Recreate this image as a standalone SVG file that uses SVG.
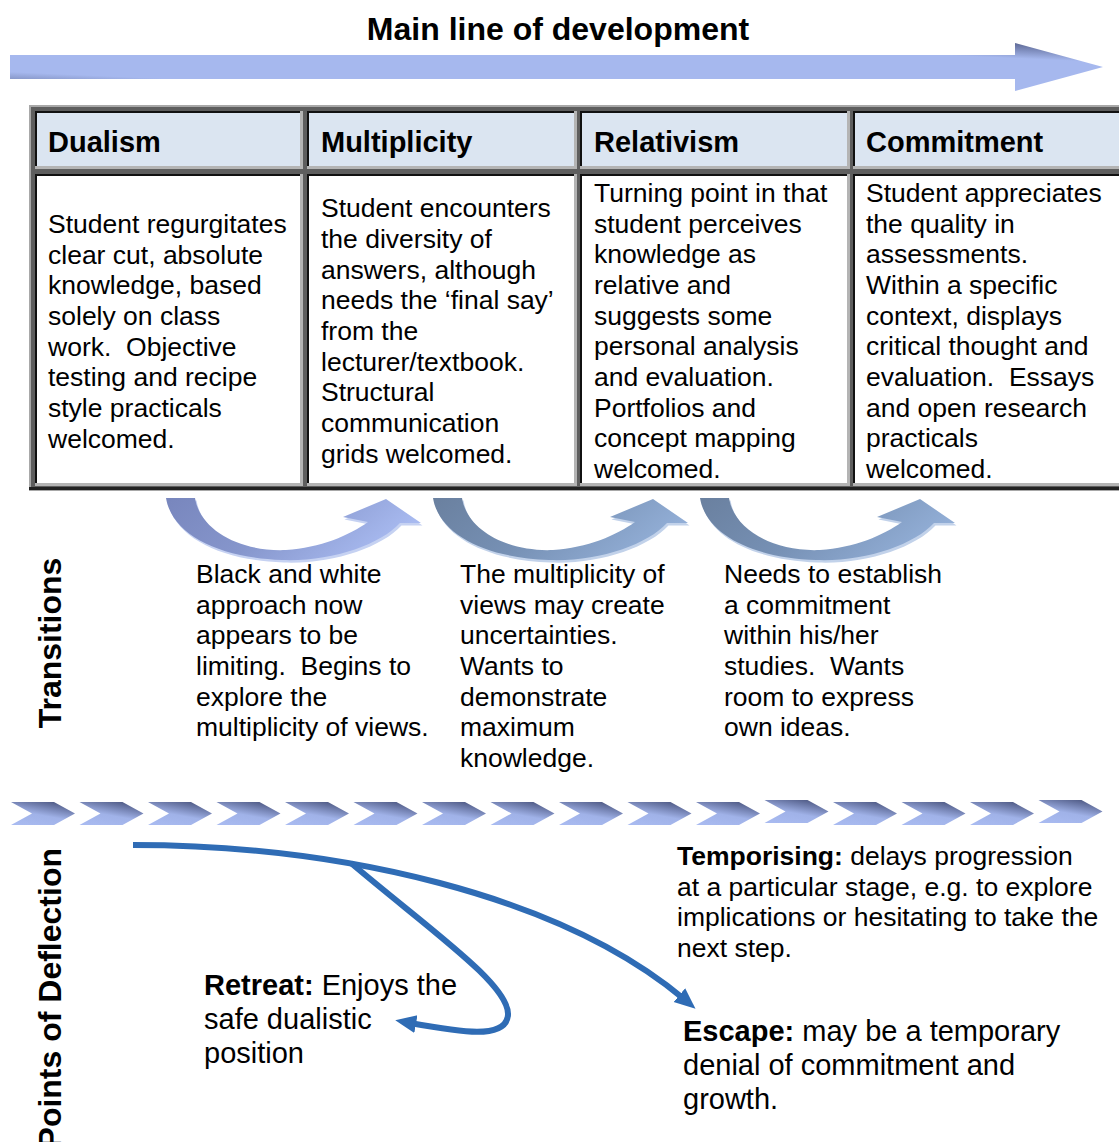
<svg xmlns="http://www.w3.org/2000/svg" width="1119" height="1142" viewBox="0 0 1119 1142">
  <style>
    text { font-family: "Liberation Sans", Arial, sans-serif; fill: #000; white-space: pre; }
    .title { font-size: 32px; font-weight: bold; }
    .head { font-size: 29px; font-weight: bold; }
    .body { font-size: 26.5px; }
    .big { font-size: 29px; }
    .side { font-size: 32px; font-weight: bold; }
    .b { font-weight: bold; }
    .hdr { fill: #dbe5f1; }
    .cell { fill: #ffffff; }
    .edgeDark { fill: #111111; }
    .edgeLight { fill: #b4b4b4; }
    .defl { fill: none; stroke: #2f6cb5; stroke-width: 6; stroke-linecap: butt; }
  </style>
  <defs>
    <linearGradient id="gMain" x1="0" y1="1" x2="1" y2="0">
      <stop offset="0" stop-color="#56628c"/>
      <stop offset="0.2" stop-color="#a6b8ee"/>
      <stop offset="0.8" stop-color="#a6b8ee"/>
      <stop offset="1" stop-color="#4c5680"/>
    </linearGradient>
    <linearGradient id="gChev" x1="0.2" y1="1" x2="0.7" y2="0">
      <stop offset="0" stop-color="#a8baf0"/>
      <stop offset="0.45" stop-color="#a0b2e8"/>
      <stop offset="1" stop-color="#505b86"/>
    </linearGradient>
    <linearGradient id="gCurve1" x1="0" y1="0" x2="1" y2="0.3">
      <stop offset="0" stop-color="#7886bd"/>
      <stop offset="0.5" stop-color="#8696cc"/>
      <stop offset="1" stop-color="#a8baf0"/>
    </linearGradient>
    <linearGradient id="gCurve2" x1="0" y1="0" x2="1" y2="0.3">
      <stop offset="0" stop-color="#6a809f"/>
      <stop offset="0.5" stop-color="#7690b4"/>
      <stop offset="1" stop-color="#92aed6"/>
    </linearGradient>
    <path id="curveShape" d="M166,498 L195,498 C200,530 240,552 286,550 C320,548 350,535 368,522 L343,517 L386,499 L421,523 L400,523 C380,545 330,562 282,560 C220,558 172,535 166,498 Z"/>
    <polygon id="chev" points="0,0 43,0 64,11.5 43,23 0,23 21,11.5"/>
    <marker id="head" markerUnits="userSpaceOnUse" markerWidth="24" markerHeight="24" viewBox="0 0 24 24" refX="6" refY="12" orient="auto">
      <path d="M0,3 L21,12 L0,21 Z" fill="#2f6cb5"/>
    </marker>
  </defs>

  <!-- Main line of development -->
  <g id="main-line">
    <text class="title" x="558" y="40" text-anchor="middle">Main line of development</text>
    <path d="M10,55 L1015,55 L1015,43 L1103,67 L1015,91 L1015,79 L10,79 Z" fill="url(#gMain)"/>
  </g>

  <!-- Table frame -->
  <g id="table-frame">
    <rect x="29" y="105" width="1100" height="386" fill="#a8a8a8"/>
    <rect x="31" y="107" width="1098" height="383" fill="#5e5e5e"/>
    <rect x="29" y="487" width="1100" height="3" fill="#222"/>
  </g>

  <!-- Stage headers -->
  <g id="hdr-dualism">
    <rect class="hdr" x="35" y="111" width="268" height="58"/>
    <rect class="edgeDark" x="35" y="111" width="268" height="2"/>
    <rect class="edgeDark" x="35" y="111" width="2" height="58"/>
    <rect class="edgeLight" x="35" y="166" width="268" height="3"/>
    <rect class="edgeLight" x="300" y="111" width="3" height="58"/>
    <text class="head" x="48" y="152">Dualism</text>
  </g>
  <g id="hdr-multiplicity">
    <rect class="hdr" x="307" y="111" width="270" height="58"/>
    <rect class="edgeDark" x="307" y="111" width="270" height="2"/>
    <rect class="edgeDark" x="307" y="111" width="2" height="58"/>
    <rect class="edgeLight" x="307" y="166" width="270" height="3"/>
    <rect class="edgeLight" x="574" y="111" width="3" height="58"/>
    <text class="head" x="321" y="152">Multiplicity</text>
  </g>
  <g id="hdr-relativism">
    <rect class="hdr" x="580" y="111" width="270" height="58"/>
    <rect class="edgeDark" x="580" y="111" width="270" height="2"/>
    <rect class="edgeDark" x="580" y="111" width="2" height="58"/>
    <rect class="edgeLight" x="580" y="166" width="270" height="3"/>
    <rect class="edgeLight" x="847" y="111" width="3" height="58"/>
    <text class="head" x="594" y="152">Relativism</text>
  </g>
  <g id="hdr-commitment">
    <rect class="hdr" x="853" y="111" width="280" height="58"/>
    <rect class="edgeDark" x="853" y="111" width="280" height="2"/>
    <rect class="edgeDark" x="853" y="111" width="2" height="58"/>
    <rect class="edgeLight" x="853" y="166" width="280" height="3"/>
    <text class="head" x="866" y="152">Commitment</text>
  </g>

  <!-- Stage descriptions -->
  <g id="cell-dualism">
    <rect class="cell" x="35" y="174" width="268" height="312"/>
    <rect class="edgeDark" x="35" y="174" width="268" height="2"/>
    <rect class="edgeDark" x="35" y="174" width="2" height="312"/>
    <rect class="edgeLight" x="35" y="483" width="268" height="3"/>
    <rect class="edgeLight" x="300" y="174" width="3" height="312"/>
    <text class="body">
      <tspan x="48" y="233">Student regurgitates</tspan>
      <tspan x="48" y="264">clear cut, absolute</tspan>
      <tspan x="48" y="294">knowledge, based</tspan>
      <tspan x="48" y="325">solely on class</tspan>
      <tspan x="48" y="356">work.  Objective</tspan>
      <tspan x="48" y="386">testing and recipe</tspan>
      <tspan x="48" y="417">style practicals</tspan>
      <tspan x="48" y="448">welcomed.</tspan>
    </text>
  </g>
  <g id="cell-multiplicity">
    <rect class="cell" x="307" y="174" width="270" height="312"/>
    <rect class="edgeDark" x="307" y="174" width="270" height="2"/>
    <rect class="edgeDark" x="307" y="174" width="2" height="312"/>
    <rect class="edgeLight" x="307" y="483" width="270" height="3"/>
    <rect class="edgeLight" x="574" y="174" width="3" height="312"/>
    <text class="body">
      <tspan x="321" y="217">Student encounters</tspan>
      <tspan x="321" y="248">the diversity of</tspan>
      <tspan x="321" y="279">answers, although</tspan>
      <tspan x="321" y="309">needs the ‘final say’</tspan>
      <tspan x="321" y="340">from the</tspan>
      <tspan x="321" y="371">lecturer/textbook.</tspan>
      <tspan x="321" y="401">Structural</tspan>
      <tspan x="321" y="432">communication</tspan>
      <tspan x="321" y="463">grids welcomed.</tspan>
    </text>
  </g>
  <g id="cell-relativism">
    <rect class="cell" x="580" y="174" width="270" height="312"/>
    <rect class="edgeDark" x="580" y="174" width="270" height="2"/>
    <rect class="edgeDark" x="580" y="174" width="2" height="312"/>
    <rect class="edgeLight" x="580" y="483" width="270" height="3"/>
    <rect class="edgeLight" x="847" y="174" width="3" height="312"/>
    <text class="body">
      <tspan x="594" y="202">Turning point in that</tspan>
      <tspan x="594" y="233">student perceives</tspan>
      <tspan x="594" y="263">knowledge as</tspan>
      <tspan x="594" y="294">relative and</tspan>
      <tspan x="594" y="325">suggests some</tspan>
      <tspan x="594" y="355">personal analysis</tspan>
      <tspan x="594" y="386">and evaluation.</tspan>
      <tspan x="594" y="417">Portfolios and</tspan>
      <tspan x="594" y="447">concept mapping</tspan>
      <tspan x="594" y="478">welcomed.</tspan>
    </text>
  </g>
  <g id="cell-commitment">
    <rect class="cell" x="853" y="174" width="280" height="312"/>
    <rect class="edgeDark" x="853" y="174" width="280" height="2"/>
    <rect class="edgeDark" x="853" y="174" width="2" height="312"/>
    <rect class="edgeLight" x="853" y="483" width="280" height="3"/>
    <text class="body">
      <tspan x="866" y="202">Student appreciates</tspan>
      <tspan x="866" y="233">the quality in</tspan>
      <tspan x="866" y="263">assessments.</tspan>
      <tspan x="866" y="294">Within a specific</tspan>
      <tspan x="866" y="325">context, displays</tspan>
      <tspan x="866" y="355">critical thought and</tspan>
      <tspan x="866" y="386">evaluation.  Essays</tspan>
      <tspan x="866" y="417">and open research</tspan>
      <tspan x="866" y="447">practicals</tspan>
      <tspan x="866" y="478">welcomed.</tspan>
    </text>
  </g>

  <!-- Transitions -->
  <g id="label-transitions">
    <text class="side" transform="translate(61,643) rotate(-90)" text-anchor="middle">Transitions</text>
  </g>
  <g id="transition-1">
    <use href="#curveShape" fill="#c6d2f2" transform="translate(1.5,2.5)"/>
    <use href="#curveShape" fill="url(#gCurve1)"/>
    <text class="body">
      <tspan x="196" y="583">Black and white</tspan>
      <tspan x="196" y="614">approach now</tspan>
      <tspan x="196" y="644">appears to be</tspan>
      <tspan x="196" y="675">limiting.  Begins to</tspan>
      <tspan x="196" y="706">explore the</tspan>
      <tspan x="196" y="736">multiplicity of views.</tspan>
    </text>
  </g>
  <g id="transition-2">
    <use href="#curveShape" fill="#c2d2ea" transform="translate(268.5,2.5)"/>
    <use href="#curveShape" fill="url(#gCurve2)" transform="translate(267,0)"/>
    <text class="body">
      <tspan x="460" y="583">The multiplicity of</tspan>
      <tspan x="460" y="614">views may create</tspan>
      <tspan x="460" y="644">uncertainties.</tspan>
      <tspan x="460" y="675">Wants to</tspan>
      <tspan x="460" y="706">demonstrate</tspan>
      <tspan x="460" y="736">maximum</tspan>
      <tspan x="460" y="767">knowledge.</tspan>
    </text>
  </g>
  <g id="transition-3">
    <use href="#curveShape" fill="#c2d2ea" transform="translate(535.5,2.5)"/>
    <use href="#curveShape" fill="url(#gCurve2)" transform="translate(534,0)"/>
    <text class="body">
      <tspan x="724" y="583">Needs to establish</tspan>
      <tspan x="724" y="614">a commitment</tspan>
      <tspan x="724" y="644">within his/her</tspan>
      <tspan x="724" y="675">studies.  Wants</tspan>
      <tspan x="724" y="706">room to express</tspan>
      <tspan x="724" y="736">own ideas.</tspan>
    </text>
  </g>

  <!-- Chevron band -->
  <g id="chevron-band" fill="url(#gChev)">
    <use href="#chev" x="11" y="802"/>
    <use href="#chev" x="79.5" y="802"/>
    <use href="#chev" x="148" y="802"/>
    <use href="#chev" x="216.5" y="802"/>
    <use href="#chev" x="285" y="802"/>
    <use href="#chev" x="353.5" y="802"/>
    <use href="#chev" x="422" y="802"/>
    <use href="#chev" x="490.5" y="802"/>
    <use href="#chev" x="559" y="802"/>
    <use href="#chev" x="627.5" y="802"/>
    <use href="#chev" x="696" y="802"/>
    <use href="#chev" x="764.5" y="800"/>
    <use href="#chev" x="833" y="802"/>
    <use href="#chev" x="901.5" y="802"/>
    <use href="#chev" x="970" y="802"/>
    <use href="#chev" x="1038.5" y="800"/>
  </g>

  <!-- Points of deflection -->
  <g id="label-deflection">
    <text class="side" transform="translate(61,848) rotate(-90)" text-anchor="end">Points of Deflection</text>
  </g>

  <g id="connectors">
    <path id="path-escape" class="defl" d="M133,845 C340,845 560,895 684,999" marker-end="url(#head)"/>
    <path id="path-retreat" class="defl" d="M351,863 C430,930 510,985 508,1015 C506,1040 460,1032 410,1023" marker-end="url(#head)"/>
  </g>

  <g id="temporising">
    <text class="body">
      <tspan x="677" y="865"><tspan class="b">Temporising:</tspan> delays progression</tspan>
      <tspan x="677" y="896">at a particular stage, e.g. to explore</tspan>
      <tspan x="677" y="926">implications or hesitating to take the</tspan>
      <tspan x="677" y="957">next step.</tspan>
    </text>
  </g>
  <g id="retreat">
    <text class="big">
      <tspan x="204" y="995"><tspan class="b">Retreat:</tspan> Enjoys the</tspan>
      <tspan x="204" y="1029">safe dualistic</tspan>
      <tspan x="204" y="1063">position</tspan>
    </text>
  </g>
  <g id="escape">
    <text class="big">
      <tspan x="683" y="1041"><tspan class="b">Escape:</tspan> may be a temporary</tspan>
      <tspan x="683" y="1075">denial of commitment and</tspan>
      <tspan x="683" y="1109">growth.</tspan>
    </text>
  </g>
</svg>
